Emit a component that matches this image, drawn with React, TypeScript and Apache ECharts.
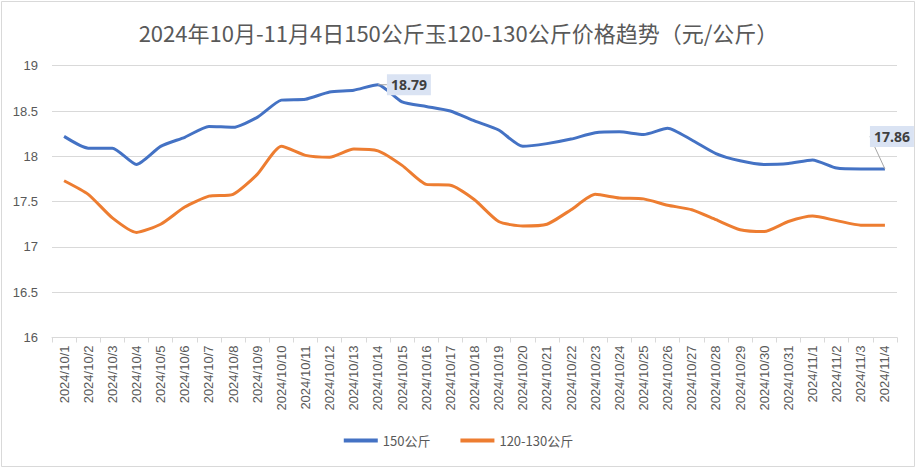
import React, { useEffect, useRef } from "react";
import * as echarts from "echarts";

const categories = [
  "2024/10/1", "2024/10/2", "2024/10/3", "2024/10/4", "2024/10/5", "2024/10/6", "2024/10/7",
  "2024/10/8", "2024/10/9", "2024/10/10", "2024/10/11", "2024/10/12", "2024/10/13", "2024/10/14",
  "2024/10/15", "2024/10/16", "2024/10/17", "2024/10/18", "2024/10/19", "2024/10/20", "2024/10/21",
  "2024/10/22", "2024/10/23", "2024/10/24", "2024/10/25", "2024/10/26", "2024/10/27", "2024/10/28",
  "2024/10/29", "2024/10/30", "2024/10/31", "2024/11/1", "2024/11/2", "2024/11/3", "2024/11/4",
];

const series150 = [
  18.22, 18.09, 18.09, 17.91, 18.11, 18.21, 18.33, 18.32, 18.43, 18.62, 18.63, 18.71, 18.73, 18.79,
  18.6, 18.55, 18.5, 18.39, 18.29, 18.11, 18.14, 18.19, 18.26, 18.27, 18.24, 18.31, 18.18, 18.03,
  17.95, 17.91, 17.92, 17.96, 17.87, 17.86, 17.86,
];

const series120 = [
  17.73, 17.58, 17.32, 17.16, 17.25, 17.44, 17.56, 17.58, 17.8, 18.11, 18.01, 17.99, 18.08, 18.06,
  17.9, 17.69, 17.68, 17.52, 17.28, 17.23, 17.25, 17.41, 17.58, 17.54, 17.53, 17.46, 17.41, 17.3,
  17.19, 17.17, 17.28, 17.34, 17.29, 17.24, 17.24,
];

const seriesNames = ["150公斤", "120-130公斤"];
const yTicks = { min: 16, max: 19, interval: 0.5 };
const labeledIndices150 = [13, 34];

const TITLE = "2024年10月-11月4日150公斤玉120-130公斤价格趋势（元/公斤）";

export default function App() {
  const ref = useRef<HTMLDivElement>(null);
  useEffect(() => {
    if (!ref.current) return;
    const chart = echarts.init(ref.current, undefined, { renderer: "svg" });
    const labelStyle = {
      show: true,
      backgroundColor: "#dae3f3",
      color: "#404040",
      fontWeight: "bold" as const,
      fontSize: 14,
      fontFamily: "'Noto Sans', sans-serif",
      padding: [4, 4, 3, 4],
    };
    const data150 = series150.map((v, i) => {
      if (!labeledIndices150.includes(i)) return v;
      if (i === 13) {
        return { value: v, label: { ...labelStyle, position: "right", distance: 9 } };
      }
      return {
        value: v,
        label: { ...labelStyle, position: "top", distance: 22 },
      };
    });
    chart.setOption({
      animation: false,
      backgroundColor: "#ffffff",
      title: {
        text: TITLE,
        left: "center",
        top: 16,
        textStyle: {
          fontSize: 22,
          fontWeight: "normal",
          color: "#595959",
          fontFamily: "'Noto Sans CJK SC', sans-serif",
        },
      },
      legend: {
        bottom: 18,
        left: "center",
        icon: "rect",
        itemWidth: 34,
        itemHeight: 4,
        itemGap: 30,
        textStyle: {
          fontSize: 13,
          color: "#595959",
          fontFamily: "'Noto Sans CJK SC', sans-serif",
        },
        data: seriesNames,
      },
      grid: { left: 52, right: 20, top: 65.7, bottom: 132.5, containLabel: false },
      xAxis: {
        type: "category",
        data: categories,
        boundaryGap: true,
        axisLine: { lineStyle: { color: "#d9d9d9", width: 1 } },
        axisTick: { show: true, length: 5, lineStyle: { color: "#d9d9d9" } },
        axisLabel: {
          rotate: 90,
          interval: 0,
          margin: 8,
          fontSize: 13,
          color: "#595959",
          fontFamily: "'Liberation Sans', sans-serif",
        },
      },
      yAxis: {
        type: "value",
        min: yTicks.min,
        max: yTicks.max,
        interval: yTicks.interval,
        axisLine: { show: false },
        axisTick: { show: false },
        splitLine: { lineStyle: { color: "#d9d9d9", width: 1 } },
        axisLabel: {
          margin: 14,
          fontSize: 13,
          color: "#595959",
          fontFamily: "'Liberation Sans', sans-serif",
        },
      },
      series: [
        {
          name: seriesNames[0],
          type: "line",
          data: data150,
          smooth: 0.2,
          showSymbol: true,
          symbol: "circle",
          symbolSize: 0,
          lineStyle: { color: "#4472c4", width: 3 },
          itemStyle: { color: "#4472c4" },
          labelLine: { show: true, lineStyle: { color: "#a6a6a6", width: 1 } },
          labelLayout: (params: any) =>
            params.dataIndex === 34 ? { dx: 7, dy: 0 } : {},
          z: 3,
        },
        {
          name: seriesNames[1],
          type: "line",
          data: series120,
          smooth: 0.2,
          showSymbol: false,
          symbol: "none",
          lineStyle: { color: "#ed7d31", width: 3 },
          itemStyle: { color: "#ed7d31" },
          z: 2,
        },
      ],
      graphic: [
        {
          type: "rect",
          shape: { x: 1.5, y: 1.5, width: 913, height: 465 },
          style: { fill: "none", stroke: "#d9d9d9", lineWidth: 1 },
          silent: true,
        },
      ],
    });
    return () => chart.dispose();
  }, []);
  return (
    <div
      ref={ref}
      style={{ position: "absolute", left: 0, top: 0, width: 917, height: 470 }}
    />
  );
}
